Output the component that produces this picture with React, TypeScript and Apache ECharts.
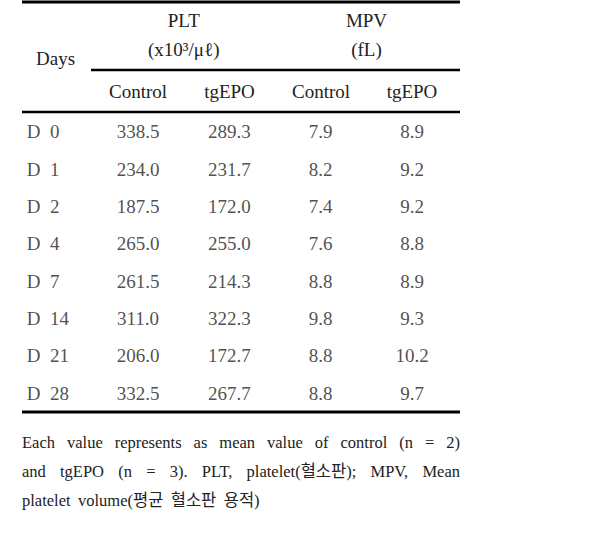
import React, { useEffect, useRef } from "react";
import * as echarts from "echarts";

const days = ["D 0", "D 1", "D 2", "D 4", "D 7", "D 14", "D 21", "D 28"];
const pltControl = [338.5, 234.0, 187.5, 265.0, 261.5, 311.0, 206.0, 332.5];
const pltTgEPO = [289.3, 231.7, 172.0, 255.0, 214.3, 322.3, 172.7, 267.7];
const mpvControl = [7.9, 8.2, 7.4, 7.6, 8.8, 9.8, 8.8, 8.8];
const mpvTgEPO = [8.9, 9.2, 9.2, 8.8, 8.9, 9.3, 10.2, 9.7];
const groupHeaders = ["PLT", "MPV"];
const unitHeaders = ["(x10³/μℓ)", "(fL)"];
const subHeaders = ["Control", "tgEPO", "Control", "tgEPO"];
const footnoteLines = [
  "Each value represents as mean value of control (n = 2)",
  "and tgEPO (n = 3). PLT, platelet(혈소판); MPV, Mean",
  "platelet volume(평균 혈소판 용적)",
];

const FONT = "Liberation Serif, Noto Sans CJK KR, serif";
const COLOR = "#222";
const FS = 19;

export default function App() {
  const ref = useRef<HTMLDivElement>(null);
  useEffect(() => {
    document.body.style.margin = "0";
    const chart = echarts.init(ref.current!, null, { renderer: "svg" });

    const L = 22, R = 460;
    const gridTop = 113, gridBottom = 412;
    const colX = [138, 229.5, 321, 412];
    const unit = (colX[3] - colX[0]) / 3;
    const xMin = 1 - (colX[0] - L) / unit;
    const xMax = xMin + (R - L) / unit;

    const columns = [pltControl, pltTgEPO, mpvControl, mpvTgEPO];
    const series: any[] = columns.map((vals, ci) => ({
      type: "scatter",
      symbolSize: 0,
      silent: true,
      data: vals.map((v, ri) => [ci + 1, days[ri], v]),
      label: {
        show: true,
        position: "inside",
        formatter: (p: any) => (p.value[2] as number).toFixed(1),
        fontFamily: FONT,
        fontSize: FS,
        color: COLOR,
      },
    }));
    series.push({
      type: "scatter",
      symbolSize: 0,
      silent: true,
      data: days.map((d) => [0, d]),
      label: {
        show: true,
        position: "inside",
        align: "left",
        offset: [-20, 0],
        formatter: (p: any) => String(p.value[1]).replace(" ", "\u00a0\u00a0"),
        fontFamily: FONT,
        fontSize: FS,
        color: COLOR,
      },
    });

    // footnote justified layout
    const canvas = document.createElement("canvas");
    const ctx = canvas.getContext("2d")!;
    const fnSize = 16.5;
    ctx.font = `${fnSize}px ${FONT}`;
    const footY = [442, 471, 500];
    const graphics: any[] = [];
    footnoteLines.forEach((line, li) => {
      const words = line.split(" ");
      const justify = li < footnoteLines.length - 1;
      const widths = words.map((w) => ctx.measureText(w).width);
      const total = widths.reduce((a, b) => a + b, 0);
      const gap = justify ? (R - L - total) / (words.length - 1) : ctx.measureText(" ").width * 1.8;
      let x = L;
      words.forEach((w, wi) => {
        graphics.push({
          type: "text",
          x,
          y: footY[li],
          style: { text: w, fontFamily: FONT, fontSize: fnSize, fill: COLOR, verticalAlign: "middle", align: "left" },
        });
        x += widths[wi] + gap;
      });
    });

    const headerText = (text: string, x: number, y: number, align = "center") => ({
      type: "text",
      x,
      y,
      style: { text, fontFamily: FONT, fontSize: FS, fill: COLOR, align, verticalAlign: "middle" },
    });
    const groupCenters = [(colX[0] + colX[1]) / 2, (colX[2] + colX[3]) / 2];
    groupHeaders.forEach((h, i) => graphics.push(headerText(h, groupCenters[i], 20)));
    unitHeaders.forEach((h, i) => graphics.push(headerText(h, groupCenters[i], 49)));
    subHeaders.forEach((h, i) => graphics.push(headerText(h, colX[i], 91)));
    graphics.push(headerText("Days", 36, 58, "left"));

    const rule = (x1: number, x2: number, y: number, w: number) => ({
      type: "line",
      shape: { x1, y1: y, x2, y2: y },
      style: { stroke: "#000", lineWidth: w },
    });
    graphics.push(rule(L, R, 2, 3));
    graphics.push(rule(91, R, 70, 2.5));
    graphics.push(rule(L, R, 112, 2.5));
    graphics.push(rule(L, R, 412, 3));

    chart.setOption({
      animation: false,
      grid: { left: L, right: 612 - R, top: gridTop, bottom: 549 - gridBottom },
      xAxis: { type: "value", min: xMin, max: xMax, show: false },
      yAxis: { type: "category", data: days, inverse: true, show: false },
      series,
      graphic: graphics,
    });
    return () => chart.dispose();
  }, []);
  return <div ref={ref} style={{ width: 612, height: 549, background: "#fff" }} />;
}
